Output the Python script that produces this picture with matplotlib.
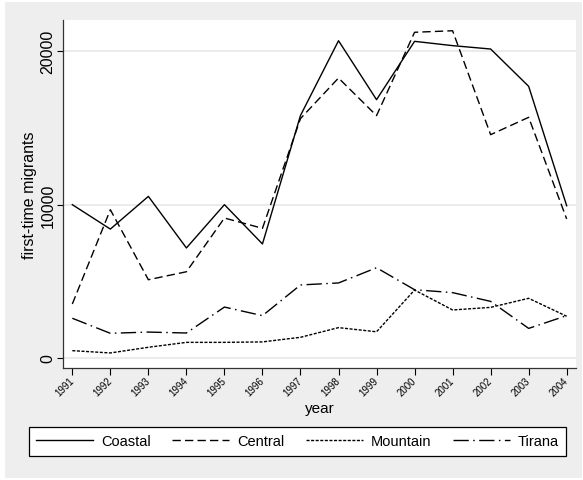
import matplotlib
matplotlib.use("Agg")
import matplotlib.pyplot as plt
from matplotlib.patches import Rectangle

years = list(range(1991, 2005))
coastal = [9990, 8400, 10530, 7170, 9990, 7430, 15800, 20670, 16830, 20630, 20350, 20130, 17700, 9920]
central = [3520, 9660, 5100, 5620, 9120, 8450, 15600, 18240, 15790, 21220, 21320, 14550, 15680, 9060]
mountain = [480, 330, 700, 1020, 1020, 1050, 1350, 1980, 1710, 4430, 3130, 3300, 3890, 2720]
tirana = [2590, 1610, 1690, 1630, 3320, 2760, 4760, 4890, 5880, 4450, 4260, 3690, 1930, 2760]
series_names = ["Coastal", "Central", "Mountain", "Tirana"]
yticks = [0, 10000, 20000]
ytick_labels = ["0", "10000", "20000"]

plt.rcParams["font.family"] = ["Liberation Sans", "DejaVu Sans"]

W, H = 583, 481
fig = plt.figure(figsize=(W / 100, H / 100), dpi=100, facecolor="white")
fig.patches.append(Rectangle((5 / W, 2 / H), 577 / W, 476 / H, transform=fig.transFigure,
                             facecolor="#eeeeee", edgecolor="none", zorder=-10))

left, right, top, bottom = 63, 576, 21, 369
ax = fig.add_axes([left / W, 1 - bottom / H, (right - left) / W, (bottom - top) / H])
ax.set_facecolor("white")

styles = [
    dict(linestyle="-"),
    dict(dashes=(6, 3)),
    dict(dashes=(2.2, 1.1)),
    dict(dashes=(11, 3.2, 1.1, 3.2)),
]
data = [coastal, central, mountain, tirana]
handles = []
for vals, name, st in zip(data, series_names, styles):
    h, = ax.plot(years, vals, color="black", lw=1.0, label=name, **st)
    handles.append(h)

ax.set_xlim(1990.755, 2004.245)
ax.set_ylim(-650, 22020)
ax.set_yticks(yticks)
ax.set_yticklabels(ytick_labels, rotation=90, va="center")
ax.set_xticks(years)
ax.set_xticklabels([str(y) for y in years], rotation=45, ha="right", va="center",
                   rotation_mode="anchor", fontsize=7)
ax.tick_params(axis="y", length=4.3, width=0.8, pad=1, labelsize=11.5, colors="black")
ax.tick_params(axis="x", length=4.8, width=0.8, pad=3, colors="black")
ax.grid(axis="y", color="#e6e6e6", lw=1.1)
ax.set_axisbelow(True)
for s in ["top", "right"]:
    ax.spines[s].set_visible(False)
for s in ["left", "bottom"]:
    ax.spines[s].set_color("#333333")
    ax.spines[s].set_linewidth(0.9)

ax.set_ylabel("first-time migrants", fontsize=11.5)
ax.yaxis.set_label_coords((37 - left) / (right - left), 0.5)
ax.set_xlabel("year", fontsize=11)
ax.xaxis.set_label_coords(0.5, -(402 - bottom) / (bottom - top))

lx0, lx1, ly0, ly1 = 29, 566, 427, 458
leg = fig.legend(handles, series_names, ncol=4, mode="expand",
                 bbox_to_anchor=(lx0 / W, 1 - ly1 / H, (lx1 - lx0) / W, (ly1 - ly0) / H),
                 loc="center", fontsize=10.5, frameon=True, fancybox=False,
                 edgecolor="black", framealpha=1, handlelength=3.9, handletextpad=0.55,
                 borderpad=0.5, borderaxespad=0)
leg.get_frame().set_linewidth(0.9)

fig.savefig("out.png", dpi=100, facecolor="white")
